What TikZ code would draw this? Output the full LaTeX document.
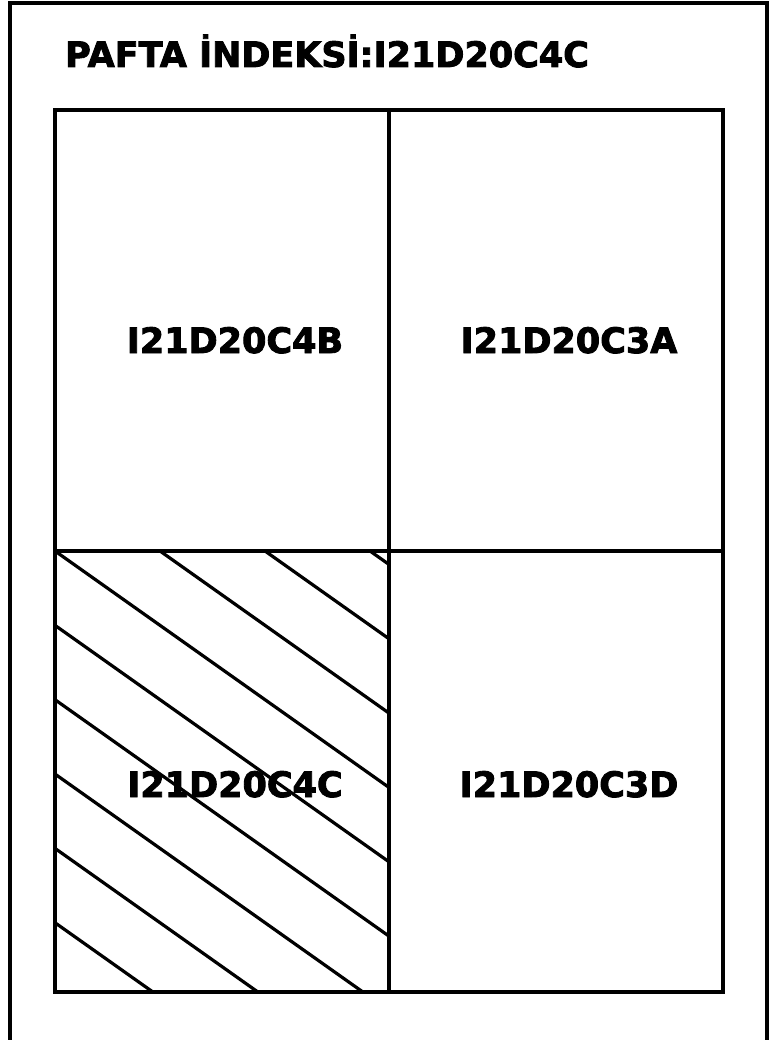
\documentclass[tikz,border=0pt]{standalone}
\usepackage{fontspec}
\newfontfamily\sheetfont[FakeBold=2.5]{DejaVu Sans Bold}
\usetikzlibrary{positioning}

\tikzset{
  frame/.style={line width=3.4pt},
  hatch/.style={line width=3.2pt},
  sheetlabel/.style={font=\sheetfont\fontsize{35}{40}\selectfont, inner sep=0pt, anchor=base}
}

\begin{document}
\begin{tikzpicture}[x=1pt, y=-1pt]
    \useasboundingbox (0,0) rectangle (774,1040);

    % Hatch the selected sheet (bottom left)
    \begin{scope}
        \clip (55,551) rectangle (389,992);
        \foreach \k in {-6,...,3}
            \draw[hatch] ({55+105*\k},551) -- ++(700,{700*0.708});
    \end{scope}

    % Outer frame (open at the bottom)
    \draw[frame] (10,1040) -- (10,3) -- (767,3) -- (767,1040);

    % Sheet grid
    \draw[frame] (55,110) rectangle (723,992);
    \draw[frame] (389,110) -- (389,992);
    \draw[frame] (55,551) -- (723,551);

    % Title and sheet names
    \node[sheetlabel, anchor=base west] (title) at (65,67) {PAFTA İNDEKSİ:I21D20C4C};
    \node[sheetlabel] (C4B) at (235,353) {I21D20C4B};
    \node[sheetlabel] (C3A) at (569,353) {I21D20C3A};
    \node[sheetlabel] (C4C) at (235,797) {I21D20C4C};
    \node[sheetlabel] (C3D) at (569,797) {I21D20C3D};
\end{tikzpicture}
\end{document}
